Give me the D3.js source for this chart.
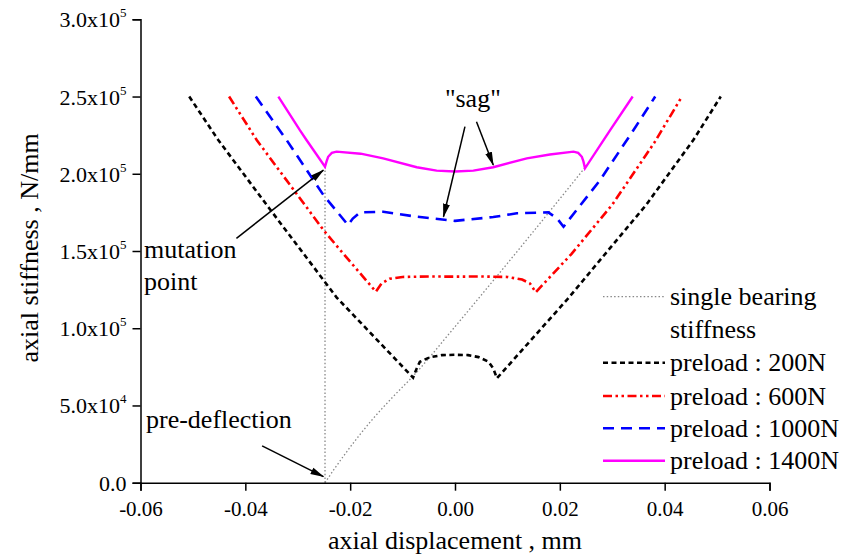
<!DOCTYPE html>
<html>
<head>
<meta charset="utf-8">
<script src="https://cdn.jsdelivr.net/npm/d3@7"></script>
<style>
  body { margin: 0; background: #fff; }
  svg text { font-family: "Liberation Serif", "DejaVu Serif", "Times New Roman", serif; }
</style>
</head>
<body>
<svg id="chart" width="859" height="558"></svg>
<script>
// axis ticks
const xMajor = [-0.06, -0.04, -0.02, 0.00, 0.02, 0.04, 0.06];
const xMinor = [-0.05, -0.03, -0.01, 0.01, 0.03, 0.05];
const xTickLabels = ["-0.06", "-0.04", "-0.02", "0.00", "0.02", "0.04", "0.06"];
const yMajor = [0, 5e4, 1e5, 1.5e5, 2e5, 2.5e5, 3e5];
const yMinor = [2.5e4, 7.5e4, 1.25e5, 1.75e5, 2.25e5, 2.75e5];
const yTickLabels = [["0.0", ""], ["5.0x10", "4"], ["1.0x10", "5"], ["1.5x10", "5"],
                     ["2.0x10", "5"], ["2.5x10", "5"], ["3.0x10", "5"]];

// series: [axial displacement mm, axial stiffness N/mm]
const singleBearing = [[-0.0248, 0], [-0.023, 9e3], [-0.020, 23e3], [-0.016, 40e3],
  [-0.012, 55e3], [-0.008, 69e3], [0.000, 101e3], [0.010, 142e3], [0.0248, 204e3]];
const mutationLine = [[-0.0248, 0], [-0.0248, 204.6e3]];

const preload200 = [[-0.0507, 250e3], [-0.0452, 222e3], [-0.0353, 177e3], [-0.0226, 120e3],
  [-0.0080, 68e3], [-0.0073, 74e3], [-0.0067, 78.3e3], [-0.0048, 81.2e3], [-0.0025, 82.6e3],
  [0.0000, 82.8e3], [0.0025, 82.6e3], [0.0045, 81.3e3], [0.0064, 78.3e3], [0.0073, 74e3],
  [0.0080, 67.6e3], [0.0215, 119e3], [0.0365, 180e3], [0.0455, 222e3], [0.0507, 250e3]];

const preload600 = [[-0.0431, 250e3], [-0.0378, 221.7e3], [-0.0251, 163.6e3], [-0.0219, 150.6e3],
  [-0.0151, 123.7e3], [-0.0140, 129e3], [-0.0125, 132e3], [-0.0100, 133.2e3], [-0.0050, 133.5e3],
  [0.0000, 133.4e3], [0.0050, 133.5e3], [0.0100, 133.2e3], [0.0128, 131.5e3], [0.0143, 129e3],
  [0.0154, 123.3e3], [0.0222, 148e3], [0.0300, 180e3], [0.0380, 220e3], [0.0433, 250e3]];

const preload1000 = [[-0.0380, 250e3], [-0.0321, 221.7e3], [-0.0251, 186.2e3], [-0.0204, 166.8e3],
  [-0.0195, 171e3], [-0.0181, 175e3], [-0.0137, 175.4e3], [-0.0073, 172.2e3], [0.0000, 169.5e3],
  [0.0073, 172e3], [0.0118, 174.4e3], [0.0178, 175e3], [0.0195, 171e3], [0.0207, 165.7e3],
  [0.0277, 196e3], [0.0340, 228e3], [0.0382, 250e3]];

const preload1400 = [[-0.0337, 250e3], [-0.0296, 228.2e3], [-0.0283, 221.7e3], [-0.0248, 204.6e3],
  [-0.0245, 208e3], [-0.0242, 211e3], [-0.0235, 213.5e3], [-0.0226, 214.3e3], [-0.0180, 213e3],
  [-0.0137, 210e3], [-0.0073, 204.2e3], [-0.0035, 202e3], [0.0000, 201.5e3], [0.0035, 202e3],
  [0.0073, 204.2e3], [0.0137, 210e3], [0.0181, 212.5e3], [0.0226, 214.3e3], [0.0235, 213.5e3],
  [0.0242, 211e3], [0.0245, 208e3], [0.0248, 203.5e3], [0.0296, 228.2e3], [0.0339, 250e3]];

const legendLabels = ["single bearing", "stiffness", "preload : 200N", "preload : 600N",
                      "preload : 1000N", "preload : 1400N"];

const svg = d3.select("#chart");
const width = +svg.attr("width"), height = +svg.attr("height");
const margin = {left: 140.5, right: 89.5, top: 19.3, bottom: 75.3};
const serif = "Liberation Serif, DejaVu Serif, serif";

const x = d3.scaleLinear([-0.06, 0.06], [margin.left, width - margin.right]);
const y = d3.scaleLinear([0, 3e5], [height - margin.bottom, margin.top]);

// arrow marker
svg.append("defs").append("marker")
    .attr("id", "arrow")
    .attr("markerUnits", "userSpaceOnUse")
    .attr("markerWidth", 14).attr("markerHeight", 8)
    .attr("refX", 13).attr("refY", 4)
    .attr("orient", "auto")
  .append("path")
    .attr("d", "M0,0.5L14,4L0,7.5z")
    .attr("fill", "#000");

const line = d3.line().x(d => x(d[0])).y(d => y(d[1]));

// curves
const curves = [
  {data: mutationLine, stroke: "#888", width: 1.3, dash: "1.5 2.2"},
  {data: singleBearing, stroke: "#888", width: 1.3, dash: "1.5 2.2", curve: d3.curveMonotoneX},
  {data: preload200, stroke: "#000", width: 2.6, dash: "5 3.5"},
  {data: preload600, stroke: "#ff0000", width: 2.6, dash: "9 3.5 2.5 3.5 2.5 3.5"},
  {data: preload1000, stroke: "#0000ff", width: 2.6, dash: "11 7"},
  {data: preload1400, stroke: "#ff00ff", width: 2.4, dash: null}
];

svg.append("g").selectAll("path")
  .data(curves)
  .join("path")
    .attr("fill", "none")
    .attr("stroke", d => d.stroke)
    .attr("stroke-width", d => d.width)
    .attr("stroke-dasharray", d => d.dash)
    .attr("d", d => line.curve(d.curve || d3.curveLinear)(d.data));

// axes
const gx = svg.append("g").attr("transform", `translate(0,${y(0)})`);
gx.call(d3.axisBottom(x).tickValues(xMinor).tickSize(5).tickFormat(""));
gx.call(d3.axisBottom(x).tickValues(xMajor).tickSize(8).tickPadding(10)
          .tickFormat((d, i) => xTickLabels[i]));
gx.attr("font-family", serif);
gx.selectAll("text").attr("font-size", 21).attr("fill", "#000");

const gy = svg.append("g").attr("transform", `translate(${x(-0.06)},0)`);
gy.call(d3.axisLeft(y).tickValues(yMinor).tickSize(5).tickFormat(""));
gy.call(d3.axisLeft(y).tickValues(yMajor).tickSize(8).tickPadding(8).tickFormat(""));
gy.attr("font-family", serif);
gy.selectAll(".tick").filter(d => yMajor.includes(d)).each(function(d) {
  const lab = yTickLabels[yMajor.indexOf(d)];
  const t = d3.select(this).append("text")
      .attr("x", -14).attr("y", 7.5)
      .attr("text-anchor", "end")
      .attr("fill", "#000")
      .attr("font-size", 22);
  t.append("tspan").text(lab[0]);
  if (lab[1]) t.append("tspan").attr("font-size", 13).attr("dy", -10).text(lab[1]);
});
svg.selectAll(".domain, .tick line").attr("stroke", "#000").attr("stroke-width", 1.5);

// axis titles
svg.append("text")
    .attr("x", x(0)).attr("y", 549)
    .attr("text-anchor", "middle")
    .attr("font-size", 26)
    .text("axial displacement , mm");

svg.append("text")
    .attr("transform", `translate(38,${y(1.52e5)}) rotate(-90)`)
    .attr("text-anchor", "middle")
    .attr("font-size", 26)
    .text("axial stiffness , N/mm");

// annotations
const annot = svg.append("g").attr("font-size", 26);
annot.append("text").attr("x", x(0.0034)).attr("y", y(243.2e3))
    .attr("text-anchor", "middle").text("\"sag\"");
annot.append("text").attr("x", 144).attr("y", y(145.5e3)).text("mutation");
annot.append("text").attr("x", 144).attr("y", y(124.5e3)).text("point");
annot.append("text").attr("x", 146).attr("y", y(35.4e3)).text("pre-deflection");

const arrows = [
  [[0.0019, 230.5e3], [-0.0022, 172.2e3]],
  [[0.0041, 233.7e3], [0.0073, 205.7e3]],
  [[-0.0417, 158.2e3], [-0.0251, 202.3e3]],
  [[-0.0368, 23.8e3], [-0.0251, 3.9e3]]
];
annot.selectAll("line.arr")
  .data(arrows)
  .join("line")
    .attr("class", "arr")
    .attr("x1", d => x(d[0][0])).attr("y1", d => y(d[0][1]))
    .attr("x2", d => x(d[1][0])).attr("y2", d => y(d[1][1]))
    .attr("stroke", "#000").attr("stroke-width", 1.5)
    .attr("marker-end", "url(#arrow)");

// legend
const legendRows = [296.7, 329.5, 362.7, 396, 428.3, 460.7];
const legendCurves = [curves[1], null, curves[2], curves[3], curves[4], curves[5]];
const legend = svg.append("g");
legendLabels.forEach((lab, i) => {
  const c = legendCurves[i];
  if (c) {
    legend.append("line")
        .attr("x1", 603).attr("x2", 665)
        .attr("y1", legendRows[i]).attr("y2", legendRows[i])
        .attr("stroke", c.stroke).attr("stroke-width", c.width)
        .attr("stroke-dasharray", c.dash);
  }
  legend.append("text")
      .attr("x", 670).attr("y", legendRows[i] + 8.5)
      .attr("font-size", 26)
      .text(lab);
});
</script>
</body>
</html>
